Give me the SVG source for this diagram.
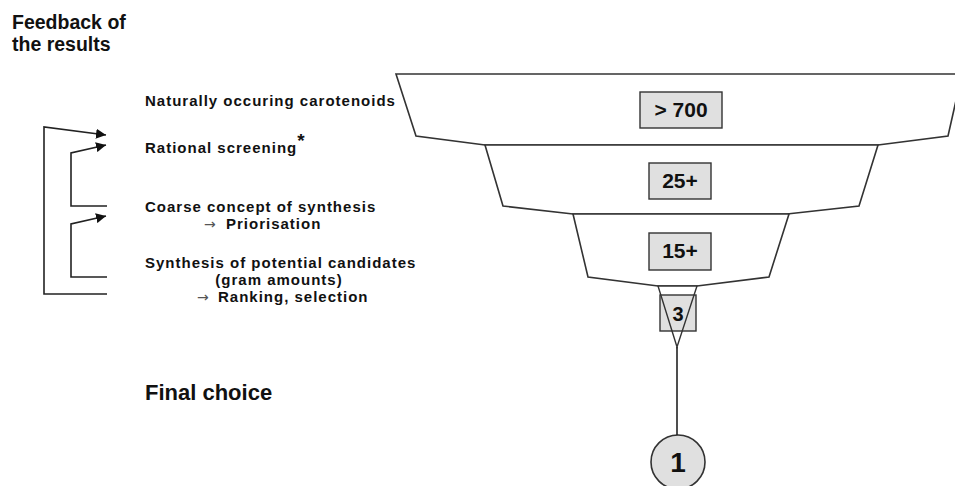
<svg xmlns="http://www.w3.org/2000/svg" width="955" height="486" viewBox="0 0 955 486">
<defs>
<marker id="ah" viewBox="0 0 10 10" refX="10" refY="5" markerWidth="10" markerHeight="10" markerUnits="userSpaceOnUse" orient="auto">
<path d="M0,0 L10,5 L0,10 Z" fill="#111"/>
</marker>
<style>
text{font-family:"Liberation Sans",Arial,sans-serif;fill:#111;font-weight:bold}
.lbl{font-size:15px;letter-spacing:1px}
.num{font-size:21px;text-anchor:middle}
.band{fill:#fff;stroke:#333;stroke-width:1.6;stroke-linejoin:miter}
.box{fill:#e0e0e0;stroke:#333;stroke-width:1.4}
.con{fill:none;stroke:#222;stroke-width:1.6}
.thin{font-family:"DejaVu Sans",sans-serif;font-weight:normal;fill:#555;font-size:14px;letter-spacing:0}
</style>
</defs>
<rect width="955" height="486" fill="#fff"/>

<g id="title">
<text x="12" y="29" style="font-size:19.5px">Feedback of</text>
<text x="12" y="51" style="font-size:19.5px">the results</text>
</g>

<g id="label-natural"><text class="lbl" x="145" y="106">Naturally occuring carotenoids</text></g>
<g id="label-rational"><text class="lbl" x="145" y="153">Rational screening<tspan dy="-6" style="font-size:19px">*</tspan></text></g>
<g id="label-coarse">
<text class="lbl" x="145" y="212">Coarse concept of synthesis</text>
<text class="lbl" x="204" y="229"><tspan class="thin">→</tspan><tspan x="226">Priorisation</tspan></text>
</g>
<g id="label-synthesis">
<text class="lbl" x="145" y="268">Synthesis of potential candidates</text>
<text class="lbl" x="279" y="285" text-anchor="middle">(gram amounts)</text>
<text class="lbl" x="197" y="302"><tspan class="thin">→</tspan><tspan x="218">Ranking, selection</tspan></text>
</g>
<g id="label-final"><text x="145" y="400" style="font-size:22px">Final choice</text></g>

<g id="stage-700">
<polygon class="band" points="396,74 962,74 948,136 878,145 485,145 416,136"/>
<rect class="box" x="640" y="92" width="82" height="36"/>
<text class="num" x="681" y="117">&gt; 700</text>
</g>
<g id="stage-25">
<polygon class="band" points="485,145 878,145 859,206 787,214 573,214 503,206"/>
<rect class="box" x="649" y="163" width="62" height="36"/>
<text class="num" x="680" y="188">25+</text>
</g>
<g id="stage-15">
<polygon class="band" points="573,214 789,214 769,277 697,286 658,286 588,277"/>
<rect class="box" x="649" y="233" width="62" height="37"/>
<text class="num" x="680" y="258">15+</text>
</g>
<g id="stage-3">
<polygon points="658,286 697,286 677,347" fill="#fff"/>
<rect class="box" x="660" y="295" width="36" height="36"/>
<text class="num" x="678" y="321" style="font-size:20px">3</text>
<polygon points="658,286 697,286 677,347" fill="none" stroke="#333" stroke-width="1.4"/>
</g>
<g id="final-1">
<circle cx="678" cy="462" r="27" fill="#e0e0e0" stroke="#333" stroke-width="1.6"/>
<text x="678" y="472" text-anchor="middle" style="font-size:28px">1</text>
</g>

<g id="connectors">
<path class="con" d="M107,294 H44 V127 L106,135" marker-end="url(#ah)"/>
<path class="con" d="M107,206 H71 V153 L106,145" marker-end="url(#ah)"/>
<path class="con" d="M107,277 H71 V224 L106,216" marker-end="url(#ah)"/>
<line class="con" x1="677" y1="347" x2="677" y2="435" stroke="#444"/>
</g>
</svg>
